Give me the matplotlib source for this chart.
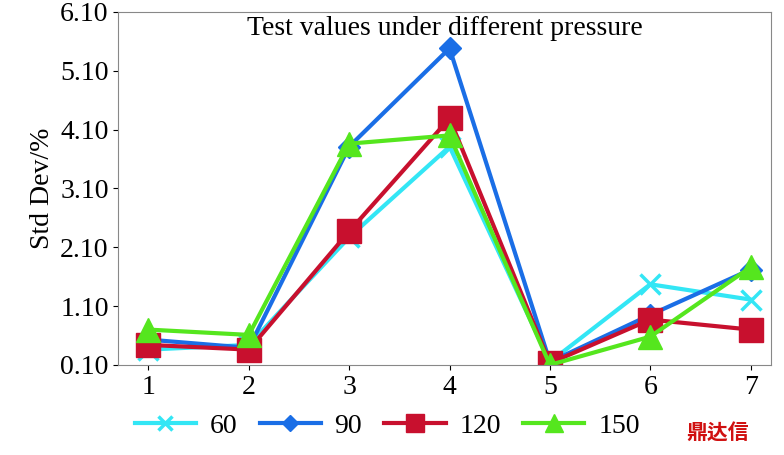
import matplotlib.pyplot as plt

x = [1, 2, 3, 4, 5, 6, 7]
s60 = [0.36, 0.44, 2.27, 3.81, 0.15, 1.47, 1.21]
s90 = [0.53, 0.39, 3.81, 5.48, 0.15, 0.95, 1.72]
s120 = [0.44, 0.36, 2.37, 4.29, 0.13, 0.87, 0.70]
s150 = [0.70, 0.61, 3.86, 4.00, 0.10, 0.58, 1.76]
yticks = [0.10, 1.10, 2.10, 3.10, 4.10, 5.10, 6.10]

plt.rcParams['font.family'] = 'Liberation Serif'
fig = plt.figure(figsize=(7.84, 4.55), dpi=100)
ax = fig.add_axes([0.151, 0.198, 0.832, 0.776])

ax.plot(x, s60, color='#33e6f5', lw=3, marker='x', ms=14, mew=2.5, label='60')
ax.plot(x, s90, color='#1a6ee6', lw=3, marker='D', ms=11, label='90')
ax.plot(x, s120, color='#c8102e', lw=3, marker='s', ms=17, label='120')
ax.plot(x, s150, color='#55e61e', lw=3, marker='^', ms=17, label='150')

ax.set_xlim(0.7, 7.2)
ax.set_ylim(0.10, 6.10)
ax.set_yticks(yticks)
ax.set_yticklabels(['%.2f' % v for v in yticks], fontsize=20)
ax.set_xticks(x)
ax.tick_params(axis='x', labelsize=20)
ax.set_ylabel('Std Dev/%', fontsize=20)
ax.set_title('Test values under different pressure', fontsize=20, y=0.91)
for s in ax.spines.values():
    s.set_color('#888888')

fig.legend(loc='lower left', bbox_to_anchor=(0.14, -0.02), ncol=4, frameon=False,
           fontsize=20, handlelength=2.2, handletextpad=0.5, columnspacing=0.8,
           markerscale=0.75)
fig.text(0.875, 0.035, '鼎达信', color='#d01010', fontsize=15,
         fontfamily=['Noto Sans CJK SC', 'Noto Sans CJK JP'], fontweight='bold')
fig.savefig('out.png')
